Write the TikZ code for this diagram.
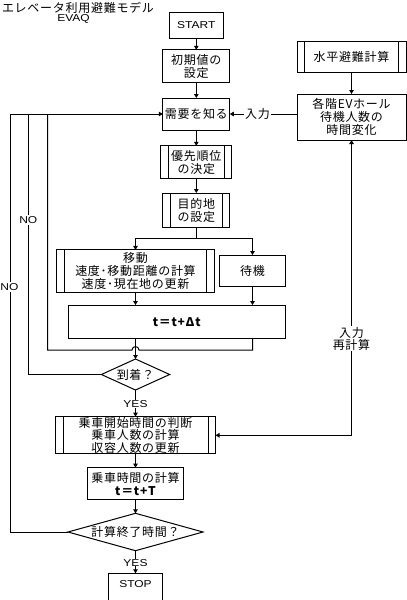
\documentclass[tikz,border=0pt]{standalone}
\usepackage{fontspec}
\setmainfont{Liberation Sans}
\newfontfamily\jp[LetterSpace=6]{Noto Sans CJK JP}
\newfontfamily\latw[FakeStretch=1.2]{Liberation Sans}
\newcommand\JPt{\jp\fontsize{12}{13}\selectfont}
\newcommand\JPb{\jp\bfseries\fontsize{12}{13}\selectfont}
\newcommand\LAT{\latw\fontsize{10}{11}\selectfont}
\usetikzlibrary{arrows.meta,shapes.geometric}
\begin{document}
\begin{tikzpicture}[x=1pt,y=-1pt,
  every node/.style={inner sep=0pt, outer sep=0pt, align=center, font=\JPt},
  box/.style={draw, line width=1pt, rectangle},
  proc/.style={box, path picture={
      \draw[line width=1pt] ([xshift=7.5pt]path picture bounding box.north west) -- ([xshift=7.5pt]path picture bounding box.south west);
      \draw[line width=1pt] ([xshift=-7.5pt]path picture bounding box.north east) -- ([xshift=-7.5pt]path picture bounding box.south east);}},
  dia/.style={draw, line width=1pt, diamond},
  lbl/.style={fill=white, inner sep=1pt},
  ln/.style={line width=1pt},
  >={Triangle[length=4pt,width=4.5pt]},
  arr/.style={ln, ->},
]
\useasboundingbox (0,0) rectangle (407,600);
\fill[white] (0,0) rectangle (407,600);

% title
\node (title) at (78,7.5) {エレベータ利用避難モデル};
\node[font=\LAT] (evaq) at (73.5,18.5) {EVAQ};

% main column
\node[box, font=\LAT, minimum width=54pt, minimum height=26pt] (start) at (196.3,25.3) {START};
\node[box, minimum width=67pt, minimum height=33pt] (init) at (196.3,66.3) {初期値の\\設定};
\node[box, minimum width=67pt, minimum height=32pt] (demand) at (196.3,114) {需要を知る};
\node[proc, minimum width=71pt, minimum height=33pt] (prio) at (196.3,162.3) {優先順位\\の決定};
\node[proc, minimum width=67pt, minimum height=34pt] (dest) at (196.3,210) {目的地\\の設定};
\coordinate (split) at (196.3,238.3);
\node[proc, minimum width=157.7pt, minimum height=42.7pt] (move) at (135.5,271.3) {移動\\速度･移動距離の計算\\速度･現在地の更新};
\node[box, minimum width=66pt, minimum height=31pt] (wait) at (252.5,270.5) {待機};
\node[box, minimum width=216.7pt, minimum height=33.3pt, font=\JPb] (tbox) at (176.7,321.7) {t＝t+Δt};
\node[dia, minimum width=68.3pt, minimum height=31pt, shape aspect=2.2] (arrive) at (135.5,374.5) {到着？};
\node[font=\LAT] (yes1) at (135.5,404) {YES};
\node[proc, minimum width=160pt, minimum height=37.3pt, font=\jp\fontsize{12}{12.6}\selectfont] (board) at (135.5,435.3) {乗車開始時間の判断\\乗車人数の計算\\収容人数の更新};
\node[box, minimum width=96.7pt, minimum height=32.3pt] (ride) at (135.5,483.8) {乗車時間の計算\\{\bfseries t＝t+T}};
\node[dia, minimum width=135pt, minimum height=37.4pt, shape aspect=3.6] (endt) at (135.5,532) {計算終了時間？};
\node[font=\LAT] (yes2) at (135.5,562.7) {YES};
\node[box, font=\LAT, minimum width=54.4pt, text height=13.7pt, text depth=20pt, anchor=north] (stop) at (135.5,573.3) {STOP};

% right column
\node[proc, minimum width=109pt, minimum height=30.6pt] (horiz) at (351.5,57) {水平避難計算};
\node[box, minimum width=109pt, minimum height=46pt] (evh) at (351.5,117) {各階EVホール\\待機人数の\\時間変化};

% helper coordinates
\coordinate (xa) at (47.7,350);
\coordinate (xb) at (28.3,0);
\coordinate (xc) at (10,0);

% connectors
\draw[arr] (start) -- (init);
\draw[arr] (init) -- (demand);
\draw[arr] (demand) -- (prio);
\draw[arr] (prio) -- (dest);
\draw[ln] (dest.south) -- (split);
\draw[arr] (split) -| (move.north);
\draw[arr] (split) -| (wait.north);
\draw[arr] (move.south) -- (move.south |- tbox.north);
\draw[arr] (wait.south) -- (wait.south |- tbox.north);
\draw[arr] (move.south |- tbox.south) -- (arrive.north);
\draw[ln] (wait.south |- tbox.south) -- (wait.south |- xa) -- (139,350) .. controls (139,345.5) and (132,345.5) .. (132,350) -- (xa) -- (xa |- demand.west);
\draw[ln] (arrive.west) -- (arrive.west -| xb) -- (xb |- demand.west);
\draw[ln] (endt.west) -- (endt.west -| xc) -- (xc |- demand.west);
\draw[arr] (demand.west -| xc) -- (demand.west);
\draw[ln] (arrive.south) -- (yes1.north);
\draw[arr] (yes1.south) -- (board.north);
\draw[arr] (board.south) -- (ride.north);
\draw[arr] (ride.south) -- (endt.north);
\draw[ln] (endt.south) -- (yes2.north);
\draw[arr] (yes2.south) -- (stop.north);
\draw[arr] (horiz) -- (evh);
\draw[arr] (evh.west |- demand) -- (demand.east);
\draw[ln, <->] (evh.south) -- (evh.south |- board.east) -- (board.east);

% labels on lines
\node[lbl] (in1) at (257.5,114) {入力};
\node[lbl, font=\LAT] (no1) at (28.3,220) {NO};
\node[lbl, font=\LAT] (no2) at (9.5,287) {NO};
\node[lbl, font=\jp\fontsize{12}{12}\selectfont] (in2) at (351.5,338.5) {入力\\再計算};
\end{tikzpicture}
\end{document}
